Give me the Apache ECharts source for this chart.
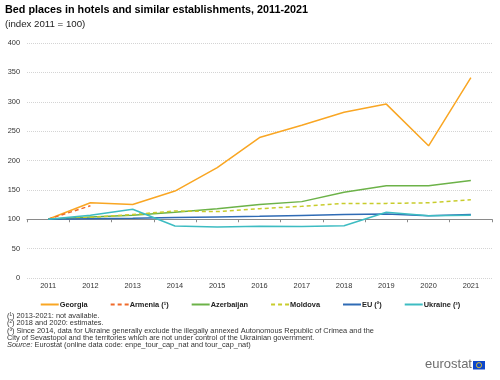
<!DOCTYPE html>
<html>
<head>
<meta charset="utf-8">
<script src="https://cdn.jsdelivr.net/npm/echarts@6/dist/echarts.min.js"></script>
<style>
html,body{margin:0;padding:0;background:#fff;}
#c{width:500px;height:380px;}
</style>
</head>
<body>
<div id="c"></div>
<script>
var years = ['2011','2012','2013','2014','2015','2016','2017','2018','2019','2020','2021'];
var georgia = [100, 128, 125, 148, 188, 239, 260, 282, 296, 225, 341];
var armenia = [100, 123, null, null, null, null, null, null, null, null, null];
var azerbaijan = [100, 104, 107, 112, 118, 125, 130, 146, 157, 157, 166];
var moldova = [100, 103, 108, 114, 113, 118, 122, 127, 127, 128, 133];
var eu = [100, 101, 101.5, 103, 104, 105, 106.5, 108, 109, 106, 108];
var ukraine = [100, 107, 117, 88.5, 87, 88, 87.5, 89, 112, 106, 107];
var yTicks = [0, 50, 100, 150, 200, 250, 300, 350, 400];
var seriesNames = ['Georgia', 'Armenia (¹)', 'Azerbaijan', 'Moldova', 'EU (²)', 'Ukraine (³)'];
var footnotes = [
  '(¹) 2013-2021: not available.',
  '(²) 2018 and 2020: estimates.',
  '(³) Since 2014, data for Ukraine generally exclude the illegally annexed Autonomous Republic of Crimea and the',
  'City of Sevastopol and the territories which are not under control of the Ukrainian government.'
];

var FONT = '"Liberation Sans", Arial, sans-serif';
var chart = echarts.init(document.getElementById('c'), null, {renderer: 'canvas'});

var gridTop = 43, gridBottom = 102, gridH = 380 - gridTop - gridBottom;
var yMax = yTicks[yTicks.length - 1];

function mk(name, data, color, dashed, z) {
  return {
    name: name, type: 'line', data: data, symbol: 'none', z: z,
    xAxisIndex: 0, connectNulls: false,
    lineStyle: {color: color, width: 1.5, type: dashed ? [4, 3] : 'solid'},
    itemStyle: {color: color, opacity: 0},
    emphasis: {disabled: true},
    animation: false
  };
}

chart.setOption({
  animation: false,
  title: [
    {text: 'Bed places in hotels and similar establishments, 2011-2021', left: 5, top: 5, padding: 0,
     textStyle: {fontFamily: FONT, fontSize: 10.8, fontWeight: 'bold', color: '#000'}},
    {text: '(index 2011 = 100)', left: 5, top: 19, padding: 0,
     textStyle: {fontFamily: FONT, fontSize: 9.7, fontWeight: 'normal', color: '#222'}}
  ],
  grid: {left: 27, right: 8, top: gridTop, bottom: gridBottom, containLabel: false},
  legend: {
    left: 'center', top: 296, itemWidth: 18, itemHeight: 8, itemGap: 22,
    data: seriesNames,
    itemStyle: {opacity: 0},
    textStyle: {fontFamily: FONT, fontSize: 7.4, fontWeight: 'bold', color: '#222', padding: [0, 0, 0, -4]}
  },
  xAxis: [
    {type: 'category', data: years, boundaryGap: true, position: 'bottom',
     axisLine: {show: false}, axisTick: {show: false},
     axisLabel: {fontFamily: FONT, fontSize: 7.4, color: '#333', margin: 4},
     splitLine: {show: false}},
    {type: 'category', data: years, boundaryGap: true, position: 'bottom',
     offset: -(gridH * 100 / yMax),
     axisLine: {show: true, lineStyle: {color: '#8a8a8a', width: 1}},
     axisTick: {show: true, length: 3, lineStyle: {color: '#8a8a8a'}},
     axisLabel: {show: false}, splitLine: {show: false}}
  ],
  yAxis: {
    type: 'value', min: 0, max: yMax, interval: 50,
    axisLine: {show: false}, axisTick: {show: false},
    axisLabel: {fontFamily: FONT, fontSize: 7.4, color: '#333', margin: 7},
    splitLine: {lineStyle: {color: '#d4d4d4', type: [1, 1], width: 1}}
  },
  series: [
    mk(seriesNames[0], georgia, '#F9A623', false, 3),
    mk(seriesNames[1], armenia, '#F06A2A', true, 3),
    mk(seriesNames[2], azerbaijan, '#6CB248', false, 3),
    mk(seriesNames[3], moldova, '#C8CC2C', true, 3),
    mk(seriesNames[4], eu, '#2F6BB5', false, 3),
    mk(seriesNames[5], ukraine, '#3DBCC2', false, 3)
  ],
  graphic: footnotes.map(function (t, i) {
    return {type: 'text', left: 7, top: 312 + i * 7.6, silent: true,
      style: {text: t, font: '7.4px ' + FONT, fill: '#333'}};
  }).concat([
    {type: 'text', left: 7, top: 341.5, silent: true,
     style: {text: '{i|Source:} Eurostat (online data code: enpe_tour_cap_nat and tour_cap_nat)',
       font: '7.4px ' + FONT, fill: '#333',
       rich: {i: {fontStyle: 'italic', fontFamily: FONT, fontSize: 7.4, fill: '#333'}}}},
    {type: 'text', left: 425, top: 358, silent: true,
     style: {text: 'eurostat', font: '13px ' + FONT, fill: '#6e6e6e'}},
    {type: 'rect', silent: true, shape: {x: 473, y: 361, width: 12, height: 8.5},
     style: {fill: '#0E47CB'}},
    {type: 'circle', silent: true, shape: {cx: 479, cy: 365.2, r: 2.6},
     style: {fill: 'none', stroke: '#FFD617', lineWidth: 0.8}}
  ])
});
</script>
</body>
</html>
